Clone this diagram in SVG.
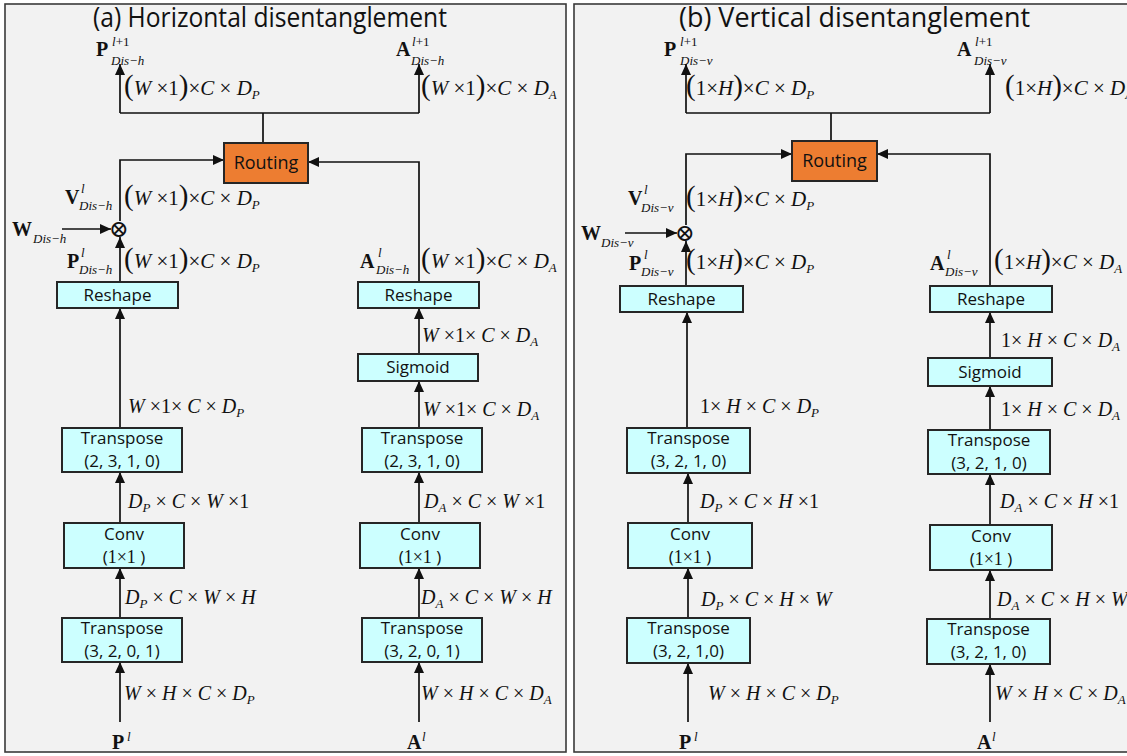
<svg xmlns="http://www.w3.org/2000/svg" width="1127" height="756" viewBox="0 0 1127 756">
<style>
.panel{fill:#f2f2f2;stroke:#3a3a3a;stroke-width:1.6}
.box{fill:#ccffff;stroke:#262626;stroke-width:2}
.rt{fill:#ed7d31;stroke:#262626;stroke-width:2}
.ln{fill:none;stroke:#111;stroke-width:1.7}
.ttl{font-family:"Open Sans",sans-serif;font-size:27px;fill:#111}
.t{font-family:"Open Sans",sans-serif;font-size:17px;fill:#111;text-anchor:middle}
.tm{font-family:"Liberation Serif",serif;font-size:18px}
.m{font-family:"Liberation Serif",serif;font-size:20px;font-style:italic;fill:#111}
.m2{font-size:21px}
.n{font-style:normal}
.pr{font-style:normal;font-size:29px}
.s{font-size:13px}
.vb{font-family:"Liberation Serif",serif;font-size:20px;font-weight:bold;fill:#111}
.vs{font-family:"Liberation Serif",serif;font-size:13px;font-style:italic;fill:#111}
.ot{font-family:"DejaVu Serif",serif;font-size:24px;fill:#111;text-anchor:middle}
</style>
<defs>
<marker id="ah" markerUnits="userSpaceOnUse" markerWidth="11" markerHeight="10" refX="11" refY="5" orient="auto">
<path d="M0,0 L11,5 L0,10 z" fill="#111"/>
</marker>
</defs>

<rect class="panel" x="5" y="4" width="561" height="748"/>
<rect class="panel" x="574" y="4" width="560" height="748"/>
<text class="ttl" x="93" y="27" textLength="354" lengthAdjust="spacingAndGlyphs">(a) Horizontal disentanglement</text>
<text class="ttl" x="679" y="27" textLength="351" lengthAdjust="spacingAndGlyphs">(b) Vertical disentanglement</text>

<g id="connectors">
<path class="ln" d="M263,143 V113 M120,113 H419" />
<path class="ln" d="M120,113 V64" marker-end="url(#ah)"/>
<path class="ln" d="M419,113 V64" marker-end="url(#ah)"/>
<path class="ln" d="M120,221 V160 H224" marker-end="url(#ah)"/>
<path class="ln" d="M419,282 V162 H308" marker-end="url(#ah)"/>
<path class="ln" d="M62,229 H111" marker-end="url(#ah)"/>
<path class="ln" d="M120,282 V237" marker-end="url(#ah)"/>
<path class="ln" d="M120,428 V308" marker-end="url(#ah)"/>
<path class="ln" d="M419,354 V308" marker-end="url(#ah)"/>
<path class="ln" d="M419,428 V381" marker-end="url(#ah)"/>
<path class="ln" d="M120,523 V472" marker-end="url(#ah)"/>
<path class="ln" d="M419,523 V472" marker-end="url(#ah)"/>
<path class="ln" d="M120,618 V568" marker-end="url(#ah)"/>
<path class="ln" d="M419,618 V568" marker-end="url(#ah)"/>
<path class="ln" d="M120,722 V662" marker-end="url(#ah)"/>
<path class="ln" d="M419,722 V662" marker-end="url(#ah)"/>
<path class="ln" d="M831,141 V113 M686,113 H990" />
<path class="ln" d="M686,113 V64" marker-end="url(#ah)"/>
<path class="ln" d="M990,113 V64" marker-end="url(#ah)"/>
<path class="ln" d="M686,225 V154 H792" marker-end="url(#ah)"/>
<path class="ln" d="M990,286 V154 H877" marker-end="url(#ah)"/>
<path class="ln" d="M625,233 H677" marker-end="url(#ah)"/>
<path class="ln" d="M686,286 V241" marker-end="url(#ah)"/>
<path class="ln" d="M687,428 V312" marker-end="url(#ah)"/>
<path class="ln" d="M990,358 V312" marker-end="url(#ah)"/>
<path class="ln" d="M990,430 V386" marker-end="url(#ah)"/>
<path class="ln" d="M688,523 V473" marker-end="url(#ah)"/>
<path class="ln" d="M990,525 V474" marker-end="url(#ah)"/>
<path class="ln" d="M688,618 V568" marker-end="url(#ah)"/>
<path class="ln" d="M990,619 V570" marker-end="url(#ah)"/>
<path class="ln" d="M688,722 V663" marker-end="url(#ah)"/>
<path class="ln" d="M990,722 V664" marker-end="url(#ah)"/>
</g>

<g id="h-routing"><rect class="rt" x="224" y="143" width="84" height="40"/><text class="t" x="266" y="169" style="font-size:18px">Routing</text></g>
<g id="h-mul"><text class="ot" x="119" y="237">⊗</text></g>
<g id="h-reshape-p"><rect class="box" x="57" y="282" width="121" height="26"/><text class="t" x="117.5" y="301">Reshape</text></g>
<g id="h-reshape-a"><rect class="box" x="358" y="282" width="121" height="26"/><text class="t" x="418.5" y="301">Reshape</text></g>
<g id="h-sigmoid"><rect class="box" x="358" y="354" width="120" height="27"/><text class="t" x="418" y="373">Sigmoid</text></g>
<g id="h-transpose1-p"><rect class="box" x="62" y="428" width="120" height="44"/><text class="t" x="122" y="444">Transpose</text><text class="t" x="122" y="467">(2, 3, 1, 0)</text></g>
<g id="h-transpose1-a"><rect class="box" x="362" y="428" width="120" height="44"/><text class="t" x="422" y="444">Transpose</text><text class="t" x="422" y="467">(2, 3, 1, 0)</text></g>
<g id="h-conv-p"><rect class="box" x="64" y="523" width="120" height="45"/><text class="t" x="124" y="540">Conv</text><text class="t" x="124" y="563">(<tspan class="tm">1×1</tspan> )</text></g>
<g id="h-conv-a"><rect class="box" x="360" y="523" width="120" height="45"/><text class="t" x="420" y="540">Conv</text><text class="t" x="420" y="563">(<tspan class="tm">1×1</tspan> )</text></g>
<g id="h-transpose2-p"><rect class="box" x="62" y="618" width="120" height="44"/><text class="t" x="122" y="634">Transpose</text><text class="t" x="122" y="657">(3, 2, 0, 1)</text></g>
<g id="h-transpose2-a"><rect class="box" x="362" y="618" width="120" height="44"/><text class="t" x="422" y="634">Transpose</text><text class="t" x="422" y="657">(3, 2, 0, 1)</text></g>

<g id="h-labels">
<text class="vb" x="96" y="56">P</text><text class="vs" x="112" y="46">l<tspan class="n">+1</tspan></text><text class="vs" x="111" y="65">Dis−h</text>
<text class="vb" x="396" y="56">A</text><text class="vs" x="412" y="46">l<tspan class="n">+1</tspan></text><text class="vs" x="411" y="65">Dis−h</text>
<text class="m m2" x="124" y="95"><tspan class="pr">(</tspan>W<tspan class="n"> ×1</tspan><tspan class="pr">)</tspan><tspan class="n">×</tspan>C<tspan class="n"> × </tspan>D<tspan class="s" dy="4">P</tspan></text>
<text class="m m2" x="421" y="95"><tspan class="pr">(</tspan>W<tspan class="n"> ×1</tspan><tspan class="pr">)</tspan><tspan class="n">×</tspan>C<tspan class="n"> × </tspan>D<tspan class="s" dy="4">A</tspan></text>
<text class="vb" x="65" y="204">V</text><text class="vs" x="81" y="193">l</text><text class="vs" x="79" y="210">Dis−h</text>
<text class="m m2" x="124" y="205"><tspan class="pr">(</tspan>W<tspan class="n"> ×1</tspan><tspan class="pr">)</tspan><tspan class="n">×</tspan>C<tspan class="n"> × </tspan>D<tspan class="s" dy="4">P</tspan></text>
<text class="vb" x="12" y="236">W</text><text class="vs" x="33" y="243">Dis−h</text>
<text class="vb" x="67" y="268">P</text><text class="vs" x="81" y="257">l</text><text class="vs" x="79" y="274">Dis−h</text>
<text class="m m2" x="124" y="268"><tspan class="pr">(</tspan>W<tspan class="n"> ×1</tspan><tspan class="pr">)</tspan><tspan class="n">×</tspan>C<tspan class="n"> × </tspan>D<tspan class="s" dy="4">P</tspan></text>
<text class="vb" x="360" y="268">A</text><text class="vs" x="378" y="257">l</text><text class="vs" x="376" y="274">Dis−h</text>
<text class="m m2" x="421" y="268"><tspan class="pr">(</tspan>W<tspan class="n"> ×1</tspan><tspan class="pr">)</tspan><tspan class="n">×</tspan>C<tspan class="n"> × </tspan>D<tspan class="s" dy="4">A</tspan></text>
<text class="m" x="422" y="342">W<tspan class="n"> ×1× </tspan>C<tspan class="n"> × </tspan>D<tspan class="s" dy="4">A</tspan></text>
<text class="m" x="128" y="413">W<tspan class="n"> ×1× </tspan>C<tspan class="n"> × </tspan>D<tspan class="s" dy="4">P</tspan></text>
<text class="m" x="423" y="416">W<tspan class="n"> ×1× </tspan>C<tspan class="n"> × </tspan>D<tspan class="s" dy="4">A</tspan></text>
<text class="m" x="128" y="508">D<tspan class="s" dy="4">P</tspan><tspan class="n" dy="-4"> × </tspan>C<tspan class="n"> × </tspan>W<tspan class="n"> ×1</tspan></text>
<text class="m" x="424" y="508">D<tspan class="s" dy="4">A</tspan><tspan class="n" dy="-4"> × </tspan>C<tspan class="n"> × </tspan>W<tspan class="n"> ×1</tspan></text>
<text class="m" x="125" y="604">D<tspan class="s" dy="4">P</tspan><tspan class="n" dy="-4"> × </tspan>C<tspan class="n"> × </tspan>W<tspan class="n"> × </tspan>H</text>
<text class="m" x="421" y="604">D<tspan class="s" dy="4">A</tspan><tspan class="n" dy="-4"> × </tspan>C<tspan class="n"> × </tspan>W<tspan class="n"> × </tspan>H</text>
<text class="m" x="124" y="700">W<tspan class="n"> × </tspan>H<tspan class="n"> × </tspan>C<tspan class="n"> × </tspan>D<tspan class="s" dy="4">P</tspan></text>
<text class="m" x="421" y="700">W<tspan class="n"> × </tspan>H<tspan class="n"> × </tspan>C<tspan class="n"> × </tspan>D<tspan class="s" dy="4">A</tspan></text>
<text class="vb" x="112" y="749">P</text><text class="vs" x="127" y="741">l</text>
<text class="vb" x="407" y="749">A</text><text class="vs" x="422" y="741">l</text>
</g>

<g id="v-routing"><rect class="rt" x="792" y="141" width="85" height="40"/><text class="t" x="834.5" y="167" style="font-size:18px">Routing</text></g>
<g id="v-mul"><text class="ot" x="685" y="241">⊗</text></g>
<g id="v-reshape-p"><rect class="box" x="620" y="286" width="123" height="26"/><text class="t" x="681.5" y="305">Reshape</text></g>
<g id="v-reshape-a"><rect class="box" x="930" y="286" width="122" height="26"/><text class="t" x="991" y="305">Reshape</text></g>
<g id="v-sigmoid"><rect class="box" x="928" y="358" width="124" height="28"/><text class="t" x="990" y="378">Sigmoid</text></g>
<g id="v-transpose1-p"><rect class="box" x="627" y="428" width="123" height="45"/><text class="t" x="688.5" y="444">Transpose</text><text class="t" x="688.5" y="467">(3, 2, 1, 0)</text></g>
<g id="v-transpose1-a"><rect class="box" x="928" y="430" width="122" height="44"/><text class="t" x="989" y="446">Transpose</text><text class="t" x="989" y="469">(3, 2, 1, 0)</text></g>
<g id="v-conv-p"><rect class="box" x="628" y="523" width="124" height="45"/><text class="t" x="690" y="540">Conv</text><text class="t" x="690" y="563">(<tspan class="tm">1×1</tspan> )</text></g>
<g id="v-conv-a"><rect class="box" x="930" y="525" width="122" height="45"/><text class="t" x="991" y="542">Conv</text><text class="t" x="991" y="565">(<tspan class="tm">1×1</tspan> )</text></g>
<g id="v-transpose2-p"><rect class="box" x="627" y="618" width="123" height="45"/><text class="t" x="688.5" y="634">Transpose</text><text class="t" x="688.5" y="657">(3, 2, 1,0)</text></g>
<g id="v-transpose2-a"><rect class="box" x="927" y="619" width="123" height="45"/><text class="t" x="988.5" y="635">Transpose</text><text class="t" x="988.5" y="658">(3, 2, 1, 0)</text></g>

<g id="v-labels">
<text class="vb" x="664" y="56">P</text><text class="vs" x="680" y="46">l<tspan class="n">+1</tspan></text><text class="vs" x="680" y="65">Dis−v</text>
<text class="vb" x="957" y="56">A</text><text class="vs" x="975" y="46">l<tspan class="n">+1</tspan></text><text class="vs" x="974" y="65">Dis−v</text>
<text class="m m2" x="686" y="95"><tspan class="pr">(</tspan><tspan class="n">1×</tspan>H<tspan class="pr">)</tspan><tspan class="n">×</tspan>C<tspan class="n"> × </tspan>D<tspan class="s" dy="4">P</tspan></text>
<text class="m m2" x="1005" y="95"><tspan class="pr">(</tspan><tspan class="n">1×</tspan>H<tspan class="pr">)</tspan><tspan class="n">×</tspan>C<tspan class="n"> × </tspan>D<tspan class="s" dy="4">A</tspan></text>
<text class="vb" x="628" y="205">V</text><text class="vs" x="644" y="194">l</text><text class="vs" x="641" y="212">Dis−v</text>
<text class="m m2" x="686" y="206"><tspan class="pr">(</tspan><tspan class="n">1×</tspan>H<tspan class="pr">)</tspan><tspan class="n">×</tspan>C<tspan class="n"> × </tspan>D<tspan class="s" dy="4">P</tspan></text>
<text class="vb" x="581" y="240">W</text><text class="vs" x="601" y="247">Dis−v</text>
<text class="vb" x="629" y="270">P</text><text class="vs" x="644" y="259">l</text><text class="vs" x="641" y="276">Dis−v</text>
<text class="m m2" x="686" y="269"><tspan class="pr">(</tspan><tspan class="n">1×</tspan>H<tspan class="pr">)</tspan><tspan class="n">×</tspan>C<tspan class="n"> × </tspan>D<tspan class="s" dy="4">P</tspan></text>
<text class="vb" x="930" y="270">A</text><text class="vs" x="947" y="259">l</text><text class="vs" x="945" y="276">Dis−v</text>
<text class="m m2" x="994" y="269"><tspan class="pr">(</tspan><tspan class="n">1×</tspan>H<tspan class="pr">)</tspan><tspan class="n">×</tspan>C<tspan class="n"> × </tspan>D<tspan class="s" dy="4">A</tspan></text>
<text class="m" x="1001" y="347"><tspan class="n">1× </tspan>H<tspan class="n"> × </tspan>C<tspan class="n"> × </tspan>D<tspan class="s" dy="4">A</tspan></text>
<text class="m" x="700" y="413"><tspan class="n">1× </tspan>H<tspan class="n"> × </tspan>C<tspan class="n"> × </tspan>D<tspan class="s" dy="4">P</tspan></text>
<text class="m" x="1001" y="416"><tspan class="n">1× </tspan>H<tspan class="n"> × </tspan>C<tspan class="n"> × </tspan>D<tspan class="s" dy="4">A</tspan></text>
<text class="m" x="700" y="508">D<tspan class="s" dy="4">P</tspan><tspan class="n" dy="-4"> × </tspan>C<tspan class="n"> × </tspan>H<tspan class="n"> ×1</tspan></text>
<text class="m" x="1000" y="508">D<tspan class="s" dy="4">A</tspan><tspan class="n" dy="-4"> × </tspan>C<tspan class="n"> × </tspan>H<tspan class="n"> ×1</tspan></text>
<text class="m" x="701" y="606">D<tspan class="s" dy="4">P</tspan><tspan class="n" dy="-4"> × </tspan>C<tspan class="n"> × </tspan>H<tspan class="n"> × </tspan>W</text>
<text class="m" x="997" y="606">D<tspan class="s" dy="4">A</tspan><tspan class="n" dy="-4"> × </tspan>C<tspan class="n"> × </tspan>H<tspan class="n"> × </tspan>W</text>
<text class="m" x="708" y="700">W<tspan class="n"> × </tspan>H<tspan class="n"> × </tspan>C<tspan class="n"> × </tspan>D<tspan class="s" dy="4">P</tspan></text>
<text class="m" x="995" y="700">W<tspan class="n"> × </tspan>H<tspan class="n"> × </tspan>C<tspan class="n"> × </tspan>D<tspan class="s" dy="4">A</tspan></text>
<text class="vb" x="679" y="749">P</text><text class="vs" x="694" y="741">l</text>
<text class="vb" x="977" y="749">A</text><text class="vs" x="992" y="741">l</text>
</g>
</svg>
